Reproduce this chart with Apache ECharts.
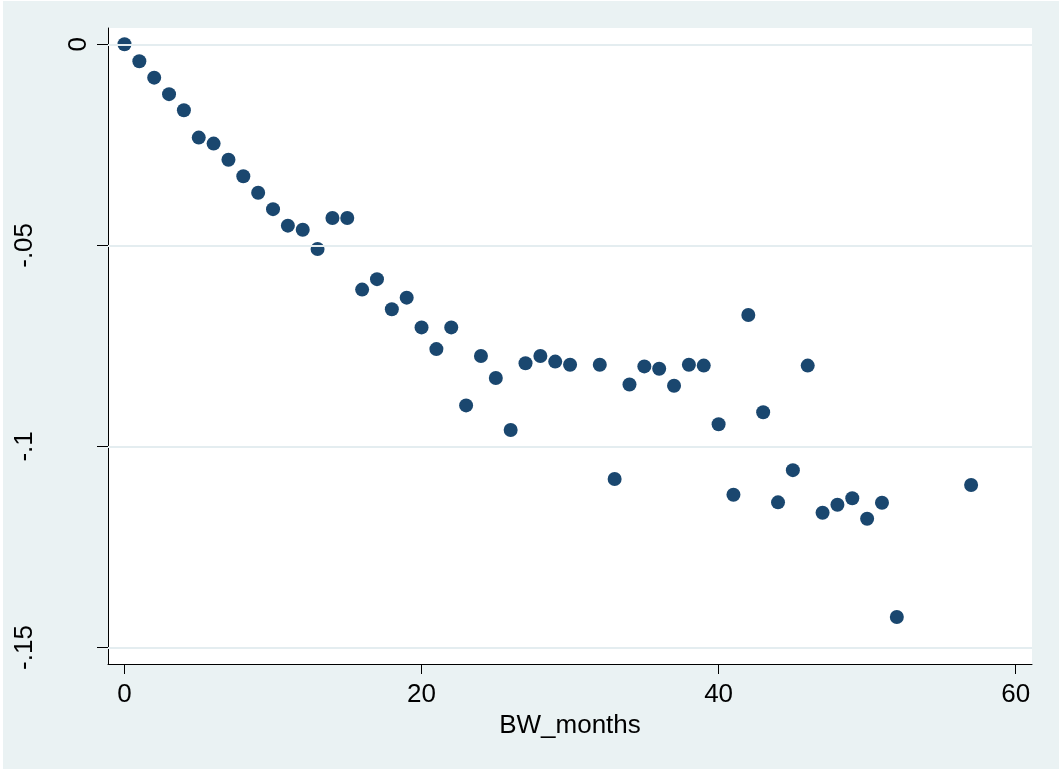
<!DOCTYPE html>
<html>
<head>
<meta charset="utf-8">
<script src="https://cdn.jsdelivr.net/npm/echarts@6/dist/echarts.min.js"></script>
<style>
  html, body { margin: 0; padding: 0; background: #ffffff; }
  #chart { position: absolute; left: 3px; top: 1px; width: 1056px; height: 768px; }
</style>
</head>
<body>
<div id="chart"></div>
<script>
// Months of breastfeeding and the estimated coefficient at each month
const bwMonths = [0, 1, 2, 3, 4, 5, 6, 7, 8, 9, 10, 11, 12, 13, 14, 15, 16, 17, 18, 19,
  20, 21, 22, 23, 24, 25, 26, 27, 28, 29, 30, 32, 33, 34, 35, 36, 37, 38, 39,
  40, 41, 42, 43, 44, 45, 46, 47, 48, 49, 50, 51, 52, 57];
const coef = [0, -0.0042, -0.0083, -0.0124, -0.0164, -0.0232, -0.0247, -0.0287, -0.0328, -0.0369,
  -0.0410, -0.0451, -0.0461, -0.0509, -0.0432, -0.0432, -0.0610, -0.0584, -0.0659, -0.0630,
  -0.0704, -0.0758, -0.0704, -0.0898, -0.0775, -0.0830, -0.0959, -0.0793, -0.0775, -0.0789,
  -0.0797, -0.0797, -0.1081, -0.0846, -0.0801, -0.0807, -0.0849, -0.0797, -0.0799,
  -0.0945, -0.1120, -0.0673, -0.0915, -0.1139, -0.1059, -0.0799, -0.1165, -0.1145, -0.1129,
  -0.1180, -0.1140, -0.1424, -0.1096];

// Axis ticks and their printed labels
const xTicks = [0, 20, 40, 60];
const xTickLabels = ['0', '20', '40', '60'];
const yTicks = [0, -0.05, -0.1, -0.15];
const yTickLabels = ['0', '-.05', '-.1', '-.15'];
const xTitle = 'BW_months';

const FONT = '"Liberation Sans", Arial, sans-serif';
const AXIS_COLOR = '#000000';
const GRID_COLOR = '#E4EDF0';

function labelFor(ticks, labels) {
  return function (v) {
    for (let i = 0; i < ticks.length; i++) {
      if (Math.abs(ticks[i] - v) < 1e-9) return labels[i];
    }
    return '';
  };
}

// The zero label sits close to the axis; the longer labels are pushed outward.
function yLabel(v) {
  const text = labelFor(yTicks, yTickLabels)(v);
  return Math.abs(v) < 1e-9 ? '{near|' + text + '}' : '{far|' + text + '}';
}

const points = bwMonths.map((m, i) => [m, coef[i]]);

const chart = echarts.init(document.getElementById('chart'), null, { renderer: 'canvas' });
chart.setOption({
  backgroundColor: '#EAF2F3',
  animation: false,
  grid: { left: 105, top: 27, width: 924, height: 636, show: true,
          backgroundColor: '#ffffff', borderWidth: 0 },
  xAxis: {
    type: 'value',
    min: -1.11, max: 61.1,
    name: xTitle,
    nameLocation: 'middle',
    nameGap: 42,
    nameTextStyle: { fontFamily: FONT, fontSize: 26, color: '#000' },
    axisLine: { show: true, onZero: false, lineStyle: { color: AXIS_COLOR, width: 1 } },
    axisTick: { show: true, length: 10, customValues: xTicks, lineStyle: { color: AXIS_COLOR } },
    axisLabel: { customValues: xTicks, formatter: labelFor(xTicks, xTickLabels),
                 fontFamily: FONT, fontSize: 26, color: '#000', margin: 18 },
    splitLine: { show: false }
  },
  yAxis: {
    type: 'value',
    min: -0.1541, max: 0.00405,
    axisLine: { show: true, onZero: false, lineStyle: { color: AXIS_COLOR, width: 1 } },
    axisTick: { show: true, length: 11, customValues: yTicks, lineStyle: { color: AXIS_COLOR } },
    axisLabel: {
      customValues: yTicks, formatter: yLabel,
      rotate: 90, fontFamily: FONT, fontSize: 26, color: '#000', margin: 16,
      rich: {
        near: { fontFamily: FONT, fontSize: 26, color: '#000', padding: [0, 0, 0, 0] },
        far: { fontFamily: FONT, fontSize: 26, color: '#000', padding: [0, 0, 54, 0] }
      }
    },
    splitLine: { show: false }
  },
  series: [
    {
      // horizontal reference lines at the labelled y values
      type: 'scatter',
      data: [],
      z: 1,
      silent: true,
      markLine: {
        silent: true,
        symbol: ['none', 'none'],
        label: { show: false },
        lineStyle: { color: GRID_COLOR, width: 2, type: 'solid' },
        data: yTicks.map(v => ({ yAxis: v }))
      }
    },
    {
      type: 'scatter',
      data: points,
      z: 3,
      symbol: 'circle',
      symbolSize: 14,
      itemStyle: { color: '#1A476F', opacity: 1 }
    }
  ]
});
</script>
</body>
</html>
